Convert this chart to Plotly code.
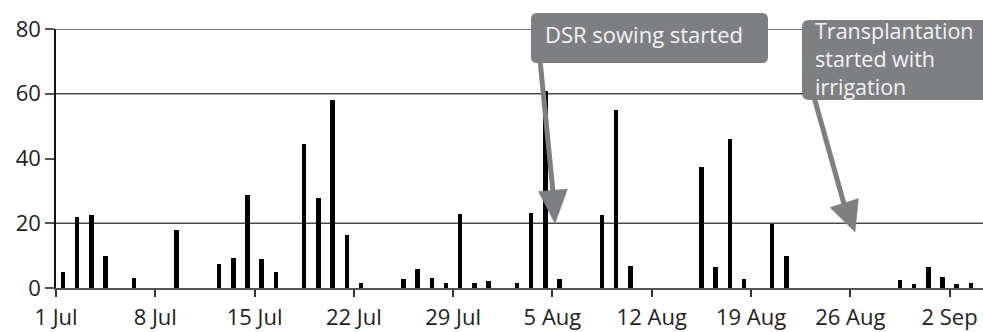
import plotly.graph_objects as go
import pandas as pd

# ---- data: daily rainfall (mm) ----
rain_dates = [
    "2014-07-01", "2014-07-02", "2014-07-03", "2014-07-04", "2014-07-06", "2014-07-09",
    "2014-07-12", "2014-07-13", "2014-07-14", "2014-07-15", "2014-07-16", "2014-07-18",
    "2014-07-19", "2014-07-20", "2014-07-21", "2014-07-22", "2014-07-25", "2014-07-26",
    "2014-07-27", "2014-07-28", "2014-07-29", "2014-07-30", "2014-07-31",
    "2014-08-02", "2014-08-03", "2014-08-04", "2014-08-05", "2014-08-08", "2014-08-09",
    "2014-08-10", "2014-08-15", "2014-08-16", "2014-08-17", "2014-08-18", "2014-08-20",
    "2014-08-21", "2014-08-29", "2014-08-30", "2014-08-31",
    "2014-09-01", "2014-09-02", "2014-09-03",
]
rain_mm = [
    5, 22, 22.5, 10, 3, 18,
    7.3, 9.2, 28.6, 9, 4.8, 44.6,
    27.8, 58, 16.4, 1.7, 2.7, 5.8,
    3.1, 1.4, 22.8, 1.5, 2.3,
    1.4, 23.2, 61, 2.8, 22.7, 55,
    6.9, 37.4, 6.6, 45.9, 2.7, 19.8,
    9.8, 2.6, 1.3, 6.6,
    3.3, 1.2, 1.7,
]
tick_dates = ["2014-07-01", "2014-07-08", "2014-07-15", "2014-07-22", "2014-07-29",
              "2014-08-05", "2014-08-12", "2014-08-19", "2014-08-26", "2014-09-02"]
tick_labels = ["1 Jul", "8 Jul", "15 Jul", "22 Jul", "29 Jul",
               "5 Aug", "12 Aug", "19 Aug", "26 Aug", "2 Sep"]
y_ticks = [0, 20, 40, 60, 80]
grid_levels = [20, 60, 80]
note_dsr = "DSR sowing started"
note_tp = "Transplantation<br>started with<br>irrigation"

# ---- layout geometry ----
W, H = 983, 332
ML, MR, MT, MB = 56, 0, 29, 44
PW, PH = W - ML - MR, H - MT - MB
DAY_MS = 86400000

def px(x):  # pixel -> paper x
    return (x - ML) / PW

def py(y):  # pixel -> paper y
    return (H - MB - y) / PH

BOX = "#7e7f82"
TXT = "#f3f3f3"
FONT = "Open Sans"

x_dates = pd.to_datetime(rain_dates)

fig = go.Figure()
fig.add_trace(go.Bar(
    x=x_dates, y=rain_mm,
    xperiod=DAY_MS, xperiodalignment="middle",
    width=0.31 * DAY_MS,
    marker=dict(color="#000000", line=dict(width=0)),
    hoverinfo="x+y",
))

shapes = []
for g in grid_levels:
    shapes.append(dict(type="line", xref="paper", yref="y", x0=0, x1=1, y0=g, y1=g,
                       line=dict(color="#4a4a4a", width=1.6), layer="below"))

def rounded_rect(x0, y0, x1, y1, r):
    pts = (f"M {px(x0 + r)},{py(y0)} L {px(x1 - r)},{py(y0)} "
           f"Q {px(x1)},{py(y0)} {px(x1)},{py(y0 + r)} "
           f"L {px(x1)},{py(y1 - r)} Q {px(x1)},{py(y1)} {px(x1 - r)},{py(y1)} "
           f"L {px(x0 + r)},{py(y1)} Q {px(x0)},{py(y1)} {px(x0)},{py(y1 - r)} "
           f"L {px(x0)},{py(y0 + r)} Q {px(x0)},{py(y0)} {px(x0 + r)},{py(y0)} Z")
    return pts

def arrow(xs, ys, xb, yb, left, right, tip):
    out = [dict(type="line", xref="paper", yref="paper", x0=px(xs), y0=py(ys),
                x1=px(xb), y1=py(yb), line=dict(color=BOX, width=5), layer="above")]
    path = (f"M {px(left[0])},{py(left[1])} L {px(right[0])},{py(right[1])} "
            f"L {px(tip[0])},{py(tip[1])} Z")
    out.append(dict(type="path", xref="paper", yref="paper", path=path,
                    fillcolor=BOX, line=dict(color=BOX, width=0.5), layer="above"))
    return out

# DSR box + arrow
shapes.append(dict(type="path", xref="paper", yref="paper",
                   path=rounded_rect(531, 13, 768, 63, 6),
                   fillcolor=BOX, line=dict(width=0), layer="above"))
shapes += arrow(540, 60, 553, 192, (538.5, 191.5), (567.5, 189), (555, 223.5))
# Transplantation box + arrow
shapes.append(dict(type="path", xref="paper", yref="paper",
                   path=rounded_rect(802, 20, 995, 100, 7),
                   fillcolor=BOX, line=dict(width=0), layer="above"))
shapes += arrow(814, 97, 844, 204, (830, 207.5), (858.5, 198.5), (855, 232))

annotations = [
    dict(xref="paper", yref="paper", x=px(543), y=py(34), xanchor="left", yanchor="middle",
         text=note_dsr, showarrow=False, font=dict(family=FONT, size=22, color=TXT)),
    dict(xref="paper", yref="paper", x=px(813), y=py(58), xanchor="left", yanchor="middle",
         text=note_tp, showarrow=False, align="left",
         font=dict(family=FONT, size=21.5, color=TXT)),
]

end_range = pd.Timestamp("2014-07-01") + pd.Timedelta(days=PW / 14.184)

fig.update_layout(
    width=W, height=H,
    margin=dict(l=ML, r=MR, t=MT, b=MB, pad=0, autoexpand=False),
    paper_bgcolor="white", plot_bgcolor="white",
    showlegend=False,
    bargap=0,
    font=dict(family=FONT, size=22, color="#222222"),
    shapes=shapes,
    annotations=annotations,
    xaxis=dict(
        type="date", automargin=False,
        range=[pd.Timestamp("2014-07-01"), end_range],
        tickvals=pd.to_datetime(tick_dates), ticktext=tick_labels,
        ticks="outside", ticklen=7, tickwidth=1.5, tickcolor="#333333",
        ticklabelstandoff=2,
        showgrid=False, zeroline=False,
        showline=True, linecolor="#555555", linewidth=1.6,
        tickfont=dict(family=FONT, size=22, color="#222222"),
        fixedrange=True,
    ),
    yaxis=dict(
        range=[0, 80], automargin=False,
        tickvals=y_ticks,
        ticks="outside", ticklen=9, tickwidth=1.5, tickcolor="#555555",
        showgrid=False, zeroline=False,
        showline=True, linecolor="#111111", linewidth=1.6,
        tickfont=dict(family=FONT, size=22, color="#222222"),
        fixedrange=True,
    ),
)

fig.write_html(
    "out.html",
    config={"displayModeBar": False},
    post_script="document.body.style.margin='0px';document.body.style.overflow='hidden';",
)
